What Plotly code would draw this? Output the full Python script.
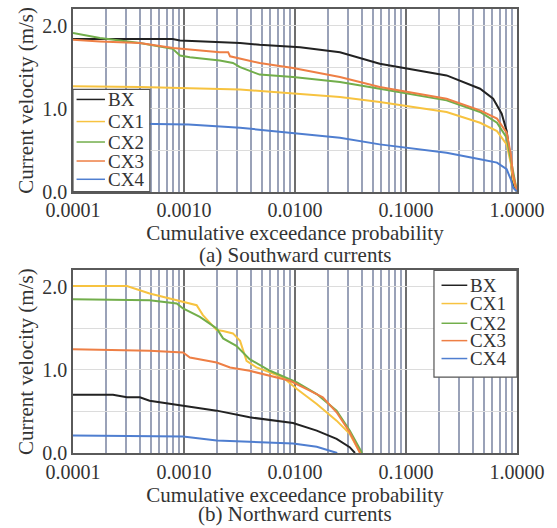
import plotly.graph_objects as go
from plotly.subplots import make_subplots

# ---------------- data ----------------
series_names = ["BX", "CX1", "CX2", "CX3", "CX4"]
series_colors = ["#222222", "#f7c340", "#72ae4b", "#ee7f45", "#4f7ed0"]

# (a) Southward currents: exceedance probability (p) and velocity (v, m/s)
south_bx_p = [1e-4, 7.9e-4, 9.2e-4, 3.2e-3, 4.8e-3, 0.0111, 0.0254, 0.058, 0.232, 0.465, 0.61, 0.728, 0.807, 0.88, 0.92, 1.0]
south_bx_v = [1.84, 1.84, 1.82, 1.79, 1.77, 1.74, 1.68, 1.54, 1.40, 1.24, 1.12, 0.94, 0.73, 0.37, 0.10, 0.0]
south_cx1_p = [1e-4, 4e-4, 3.2e-3, 0.0254, 0.058, 0.232, 0.465, 0.66, 0.807, 0.88, 0.92, 1.0]
south_cx1_v = [1.27, 1.26, 1.23, 1.14, 1.08, 0.96, 0.83, 0.73, 0.57, 0.34, 0.15, 0.0]
south_cx2_p = [1e-4, 1.75e-4, 4e-4, 7.9e-4, 9.2e-4, 1.13e-3, 2.1e-3, 2.76e-3, 3.2e-3, 4.2e-3, 4.8e-3, 9.6e-3, 0.0254, 0.058, 0.232, 0.465, 0.66, 0.807, 0.88, 1.0]
south_cx2_v = [1.91, 1.85, 1.79, 1.72, 1.64, 1.62, 1.58, 1.55, 1.50, 1.44, 1.41, 1.38, 1.32, 1.24, 1.10, 0.96, 0.83, 0.65, 0.40, 0.0]
south_cx3_p = [1e-4, 1.75e-4, 4e-4, 8e-4, 2.1e-3, 2.5e-3, 2.6e-3, 3.0e-3, 3.9e-3, 4.8e-3, 9.6e-3, 0.0254, 0.058, 0.232, 0.465, 0.66, 0.807, 0.88, 0.92, 1.0]
south_cx3_v = [1.83, 1.81, 1.79, 1.73, 1.68, 1.68, 1.63, 1.61, 1.57, 1.55, 1.49, 1.38, 1.26, 1.12, 0.98, 0.88, 0.71, 0.45, 0.21, 0.0]
south_cx4_p = [1e-4, 4e-4, 1.1e-3, 3.2e-3, 9e-3, 0.0254, 0.058, 0.232, 0.465, 0.66, 0.807, 0.88, 0.92, 1.0]
south_cx4_v = [0.83, 0.82, 0.81, 0.77, 0.71, 0.65, 0.57, 0.47, 0.39, 0.35, 0.27, 0.15, 0.05, 0.0]

# (b) Northward currents
north_bx_p = [1e-4, 2.29e-4, 3.06e-4, 4e-4, 4.9e-4, 9.8e-4, 1.97e-3, 3.9e-3, 9.6e-3, 0.0157, 0.0237, 0.0311, 0.0347]
north_bx_v = [0.70, 0.70, 0.67, 0.67, 0.63, 0.57, 0.51, 0.43, 0.36, 0.27, 0.17, 0.07, 0.0]
north_cx1_p = [1e-4, 3.06e-4, 4.9e-4, 9.8e-4, 1.3e-3, 1.48e-3, 1.97e-3, 2.25e-3, 2.76e-3, 3.2e-3, 3.66e-3, 4.5e-3, 7.8e-3, 0.0104, 0.0157, 0.0237, 0.0311, 0.0386]
north_cx1_v = [2.01, 2.01, 1.92, 1.82, 1.78, 1.66, 1.48, 1.47, 1.44, 1.35, 1.11, 1.03, 0.91, 0.77, 0.59, 0.39, 0.23, 0.0]
north_cx2_p = [1e-4, 4.9e-4, 8.6e-4, 9.8e-4, 1.39e-3, 1.97e-3, 2.25e-3, 2.96e-3, 3.9e-3, 5.95e-3, 0.0104, 0.0157, 0.0237, 0.0311, 0.0402]
north_cx2_v = [1.85, 1.84, 1.80, 1.74, 1.64, 1.50, 1.38, 1.29, 1.13, 0.99, 0.85, 0.71, 0.51, 0.27, 0.0]
north_cx3_p = [1e-4, 4.9e-4, 9.8e-4, 1.13e-3, 1.97e-3, 2.6e-3, 3.9e-3, 5.95e-3, 9e-3, 0.0136, 0.0178, 0.0237, 0.0311, 0.0386]
north_cx3_v = [1.25, 1.23, 1.21, 1.15, 1.09, 1.03, 0.99, 0.93, 0.87, 0.75, 0.67, 0.49, 0.25, 0.0]
north_cx4_p = [1e-4, 9.8e-4, 1.97e-3, 9.6e-3, 0.0157, 0.024]
north_cx4_v = [0.21, 0.20, 0.15, 0.115, 0.075, 0.0]

x_tickvals = [1e-4, 1e-3, 1e-2, 1e-1, 1.0]
x_ticktext = ["0.0001", "0.0010", "0.0100", "0.1000", "1.0000"]
y_tickvals = [0.0, 1.0, 2.0]
y_ticktext = ["0.0", "1.0", "2.0"]
x_title = "Cumulative exceedance probability"
y_title = "Current velocity (m/s)"
captions = ["(a) Southward currents", "(b) Northward currents"]

south = [(south_bx_p, south_bx_v), (south_cx1_p, south_cx1_v), (south_cx2_p, south_cx2_v),
         (south_cx3_p, south_cx3_v), (south_cx4_p, south_cx4_v)]
north = [(north_bx_p, north_bx_v), (north_cx1_p, north_cx1_v), (north_cx2_p, north_cx2_v),
         (north_cx3_p, north_cx3_v), (north_cx4_p, north_cx4_v)]

FONT = "Liberation Serif, Times New Roman, serif"
TXT = "#333333"

fig = make_subplots(rows=2, cols=1, vertical_spacing=0.177)

for row, data in [(1, south), (2, north)]:
    for name, color, (p, v) in zip(series_names, series_colors, data):
        fig.add_trace(go.Scatter(x=p, y=v, mode="lines", name=name,
                                 line=dict(color=color, width=2),
                                 showlegend=False), row=row, col=1)

for row in (1, 2):
    fig.update_xaxes(type="log", range=[-4, 0], tickvals=x_tickvals, ticktext=x_ticktext,
                     showgrid=True, gridcolor="#6e6e6e", gridwidth=1.5,
                     minor=dict(dtick="D1", showgrid=True, gridcolor="#9aa2b8", gridwidth=1.5, ticks=""),
                     showline=True, linecolor="#5a5a5a", linewidth=1.5, mirror=True,
                     ticks="", zeroline=False,
                     tickfont=dict(family=FONT, size=20, color=TXT),
                     title=dict(text=x_title, font=dict(family=FONT, size=21, color=TXT), standoff=0),
                     row=row, col=1)
    fig.update_yaxes(range=[0, 2.2], tickvals=y_tickvals, ticktext=y_ticktext,
                     showgrid=True, gridcolor="#dcdcdc", gridwidth=1,
                     minor=dict(dtick=0.5, tick0=0, showgrid=True, gridcolor="#dcdcdc", gridwidth=1, ticks=""),
                     showline=True, linecolor="#5a5a5a", linewidth=1.5, mirror=True,
                     ticks="", zeroline=False,
                     tickfont=dict(family=FONT, size=20, color=TXT),
                     title=dict(text=y_title, font=dict(family=FONT, size=21, color=TXT), standoff=3),
                     row=row, col=1)

y1_bottom = fig.layout.yaxis.domain[0]

# ---- legends drawn inside each panel (axis-domain coordinates) ----
legend_layouts = [
    ("x domain", "y domain", (0.0, 0.0, 0.173, 0.56), 0.008, 0.072, 0.074,
     [0.505, 0.384, 0.272, 0.168, 0.068]),
    ("x2 domain", "y2 domain", (0.813, 0.415, 1.0, 1.0), 0.830, 0.888, 0.890,
     [0.918, 0.818, 0.710, 0.615, 0.517]),
]
shapes = []
annotations = []
for xref, yref, (bx0, by0, bx1, by1), lx0, lx1, tx, ys in legend_layouts:
    shapes.append(dict(type="rect", xref=xref, yref=yref, x0=bx0, y0=by0, x1=bx1, y1=by1,
                       line=dict(color="#555555", width=1.2), fillcolor="white", layer="above"))
    for name, color, yy in zip(series_names, series_colors, ys):
        shapes.append(dict(type="line", xref=xref, yref=yref, x0=lx0, x1=lx1, y0=yy, y1=yy,
                           line=dict(color=color, width=1.5), layer="above"))
        annotations.append(dict(text=name, xref=xref, yref=yref, x=tx, y=yy, showarrow=False,
                                xanchor="left", yanchor="middle",
                                font=dict(family=FONT, size=19, color=TXT)))

annotations.append(dict(text=captions[0], xref="paper", yref="paper", x=0.5, y=y1_bottom,
                        yshift=-63, showarrow=False, xanchor="center", yanchor="middle",
                        font=dict(family=FONT, size=21, color=TXT)))
annotations.append(dict(text=captions[1], xref="paper", yref="paper", x=0.5, y=0,
                        yshift=-61, showarrow=False, xanchor="center", yanchor="middle",
                        font=dict(family=FONT, size=21, color=TXT)))

fig.update_layout(
    width=557, height=528,
    margin=dict(l=73, r=40, t=7, b=75),
    paper_bgcolor="white", plot_bgcolor="white",
    showlegend=False,
    shapes=shapes,
    annotations=annotations,
)

fig.write_html("out.html")
